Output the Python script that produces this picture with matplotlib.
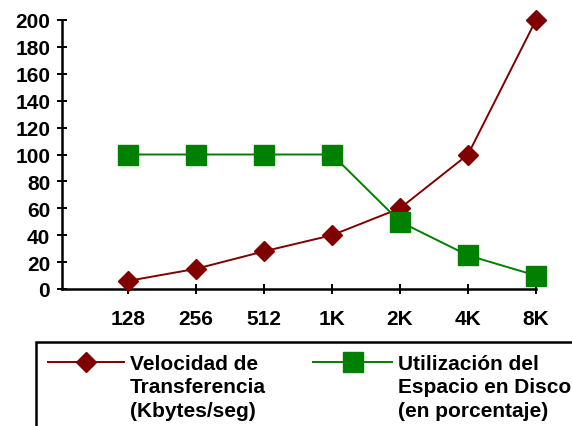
import matplotlib
matplotlib.use("Agg")
import matplotlib.pyplot as plt
from matplotlib.lines import Line2D
from matplotlib.patches import Rectangle

plt.rcParams['font.family'] = ['Liberation Sans', 'DejaVu Sans']
plt.rcParams['font.weight'] = 'bold'

# tamaño de bloque
tamanos = ['128', '256', '512', '1K', '2K', '4K', '8K']
velocidad = [6, 15, 28, 40, 60, 100, 200]
utilizacion = [100, 100, 100, 100, 50, 25, 10]
yticks = [0, 20, 40, 60, 80, 100, 120, 140, 160, 180, 200]

ROJO = '#800000'
VERDE = '#008000'
FS = 15

W, H = 572, 427
fig = plt.figure(figsize=(W / 100, H / 100), dpi=100)
ax = fig.add_axes([62 / W, (H - 290) / H, 474 / W, 269 / H])

x = list(range(len(tamanos)))
ax.plot(x, velocidad, color=ROJO, lw=1.4, marker='D', ms=10.5,
        mfc=ROJO, mec=ROJO, clip_on=False, zorder=3)
ax.plot(x, utilizacion, color=VERDE, lw=1.4, marker='s', ms=14,
        mfc=VERDE, mec=VERDE, clip_on=False, zorder=3)

ax.set_xlim(-0.97, 6)
ax.set_ylim(0, 200)
ax.set_xticks(x)
ax.set_xticklabels(tamanos)
ax.set_yticks(yticks)

for s in ['top', 'right']:
    ax.spines[s].set_visible(False)
for s in ['left', 'bottom']:
    ax.spines[s].set_linewidth(1.8)
    ax.spines[s].set_color('black')

ax.tick_params(axis='both', direction='inout', length=7, width=1.4,
               labelsize=FS, colors='black')
ax.tick_params(axis='x', pad=11)
ax.tick_params(axis='y', pad=5)
for lab in ax.get_xticklabels() + ax.get_yticklabels():
    lab.set_fontweight('bold')

# leyenda dibujada a mano (el recuadro queda cortado por el borde)
def fx(px):
    return px / W

def fy(py):
    return (H - py) / H

fig.add_artist(Rectangle((fx(36), fy(470)), fx(600), fy(343) - fy(470),
                         transform=fig.transFigure, fill=False,
                         ec='black', lw=1.8, clip_on=False))

fig.add_artist(Line2D([fx(48), fx(124)], [fy(363), fy(363)],
                      transform=fig.transFigure, color=ROJO, lw=1.4))
fig.add_artist(Line2D([fx(86)], [fy(363)], transform=fig.transFigure,
                      color=ROJO, marker='D', ms=10.5, mfc=ROJO, mec=ROJO))
fig.text(fx(130), fy(355), 'Velocidad de\nTransferencia\n(Kbytes/seg)',
         ha='left', va='top', fontsize=FS, fontweight='bold',
         linespacing=1.3)

fig.add_artist(Line2D([fx(313), fx(392)], [fy(363), fy(363)],
                      transform=fig.transFigure, color=VERDE, lw=1.4))
fig.add_artist(Line2D([fx(353)], [fy(363)], transform=fig.transFigure,
                      color=VERDE, marker='s', ms=14, mfc=VERDE, mec=VERDE))
fig.text(fx(398), fy(355), 'Utilización del\nEspacio en Disco\n(en porcentaje)',
         ha='left', va='top', fontsize=FS, fontweight='bold',
         linespacing=1.3)

fig.savefig('out.png', dpi=100)
